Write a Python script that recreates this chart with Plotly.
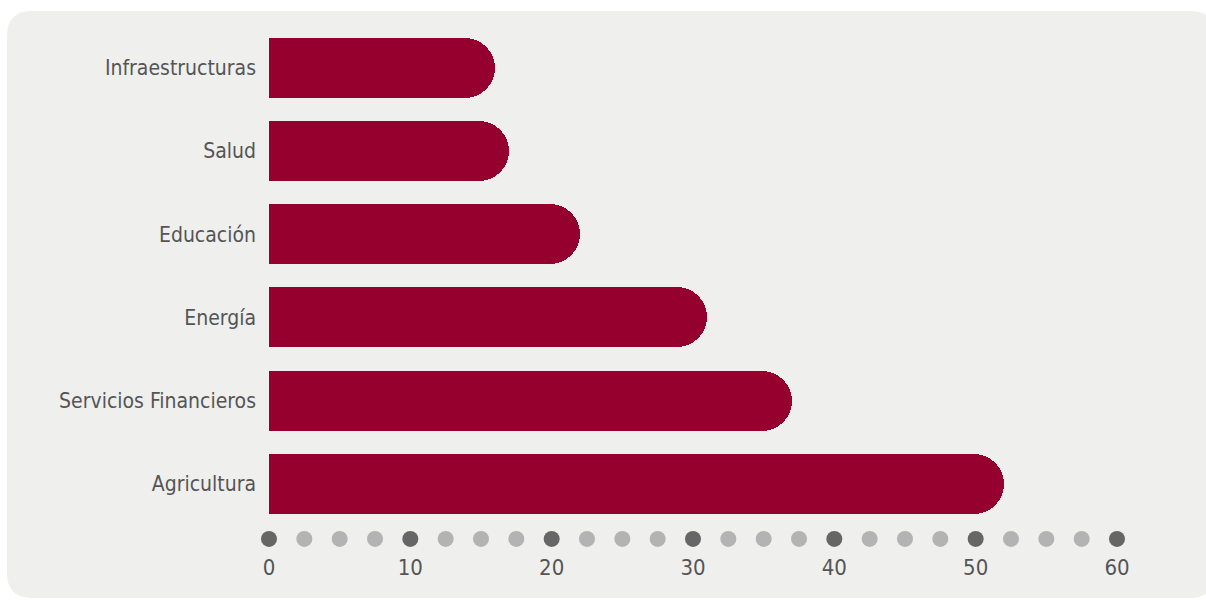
import plotly.graph_objects as go

categories = ["Agricultura", "Servicios Financieros", "Energía", "Educación", "Salud", "Infraestructuras"]
values = [52, 37, 31, 22, 17, 16]
tick_vals = [0, 10, 20, 30, 40, 50, 60]
dot_vals = [i * 2.5 for i in range(25)]

W, H = 1206, 601
ML, MR, MT, MB = 269, 89, 26, 49
pw, ph = W - ML - MR, H - MT - MB

BAR = "#95002f"
BG = "#efefed"
TXT = "#555555"
FONT = "Liberation Sans Narrow, DejaVu Sans Condensed, Arial Narrow, sans-serif"

ypos = list(range(len(categories)))

fig = go.Figure()
fig.add_trace(go.Bar(
    x=values, y=ypos, orientation="h", width=0.72,
    marker=dict(color=BAR, cornerradius="50%", line=dict(width=0)),
    hoverinfo="skip", showlegend=False,
))
dot_colors = ["#666666" if v % 10 == 0 else "#b3b3b3" for v in dot_vals]
fig.add_trace(go.Scatter(
    x=dot_vals, y=[-0.66] * len(dot_vals), mode="markers",
    marker=dict(size=16, color=dot_colors, line=dict(width=0)),
    cliponaxis=False, hoverinfo="skip", showlegend=False,
))

# rounded background panel (pixel -> paper conversion)
def px(x):
    return (x - ML) / pw
def py(y):
    return (H - MB - y) / ph
x0, x1, y0, y1, r = 7, 1215, 11, 598, 25
path = (
    f"M {px(x0 + r)},{py(y0)} L {px(x1 - r)},{py(y0)} "
    f"Q {px(x1)},{py(y0)} {px(x1)},{py(y0 + r)} "
    f"L {px(x1)},{py(y1 - r)} Q {px(x1)},{py(y1)} {px(x1 - r)},{py(y1)} "
    f"L {px(x0 + r)},{py(y1)} Q {px(x0)},{py(y1)} {px(x0)},{py(y1 - r)} "
    f"L {px(x0)},{py(y0 + r)} Q {px(x0)},{py(y0)} {px(x0 + r)},{py(y0)} Z"
)
fig.add_shape(type="path", path=path, xref="paper", yref="paper",
              fillcolor=BG, line=dict(width=0), layer="below")

fig.update_layout(
    width=W, height=H,
    margin=dict(l=ML, r=MR, t=MT, b=MB, pad=0),
    paper_bgcolor="white", plot_bgcolor="rgba(0,0,0,0)",
    font=dict(family=FONT, color=TXT, size=21),
    bargap=0,
    xaxis=dict(range=[0, 60], tickvals=tick_vals, showgrid=False, zeroline=False,
               showline=False, ticks="", tickfont=dict(size=22, color=TXT)),
    yaxis=dict(range=[-0.817, 5.5], tickvals=ypos, ticktext=categories,
               showgrid=False, zeroline=False, showline=False, ticks="",
               ticklabelstandoff=12, tickfont=dict(size=21, color=TXT)),
)
fig.write_html("out.html")
